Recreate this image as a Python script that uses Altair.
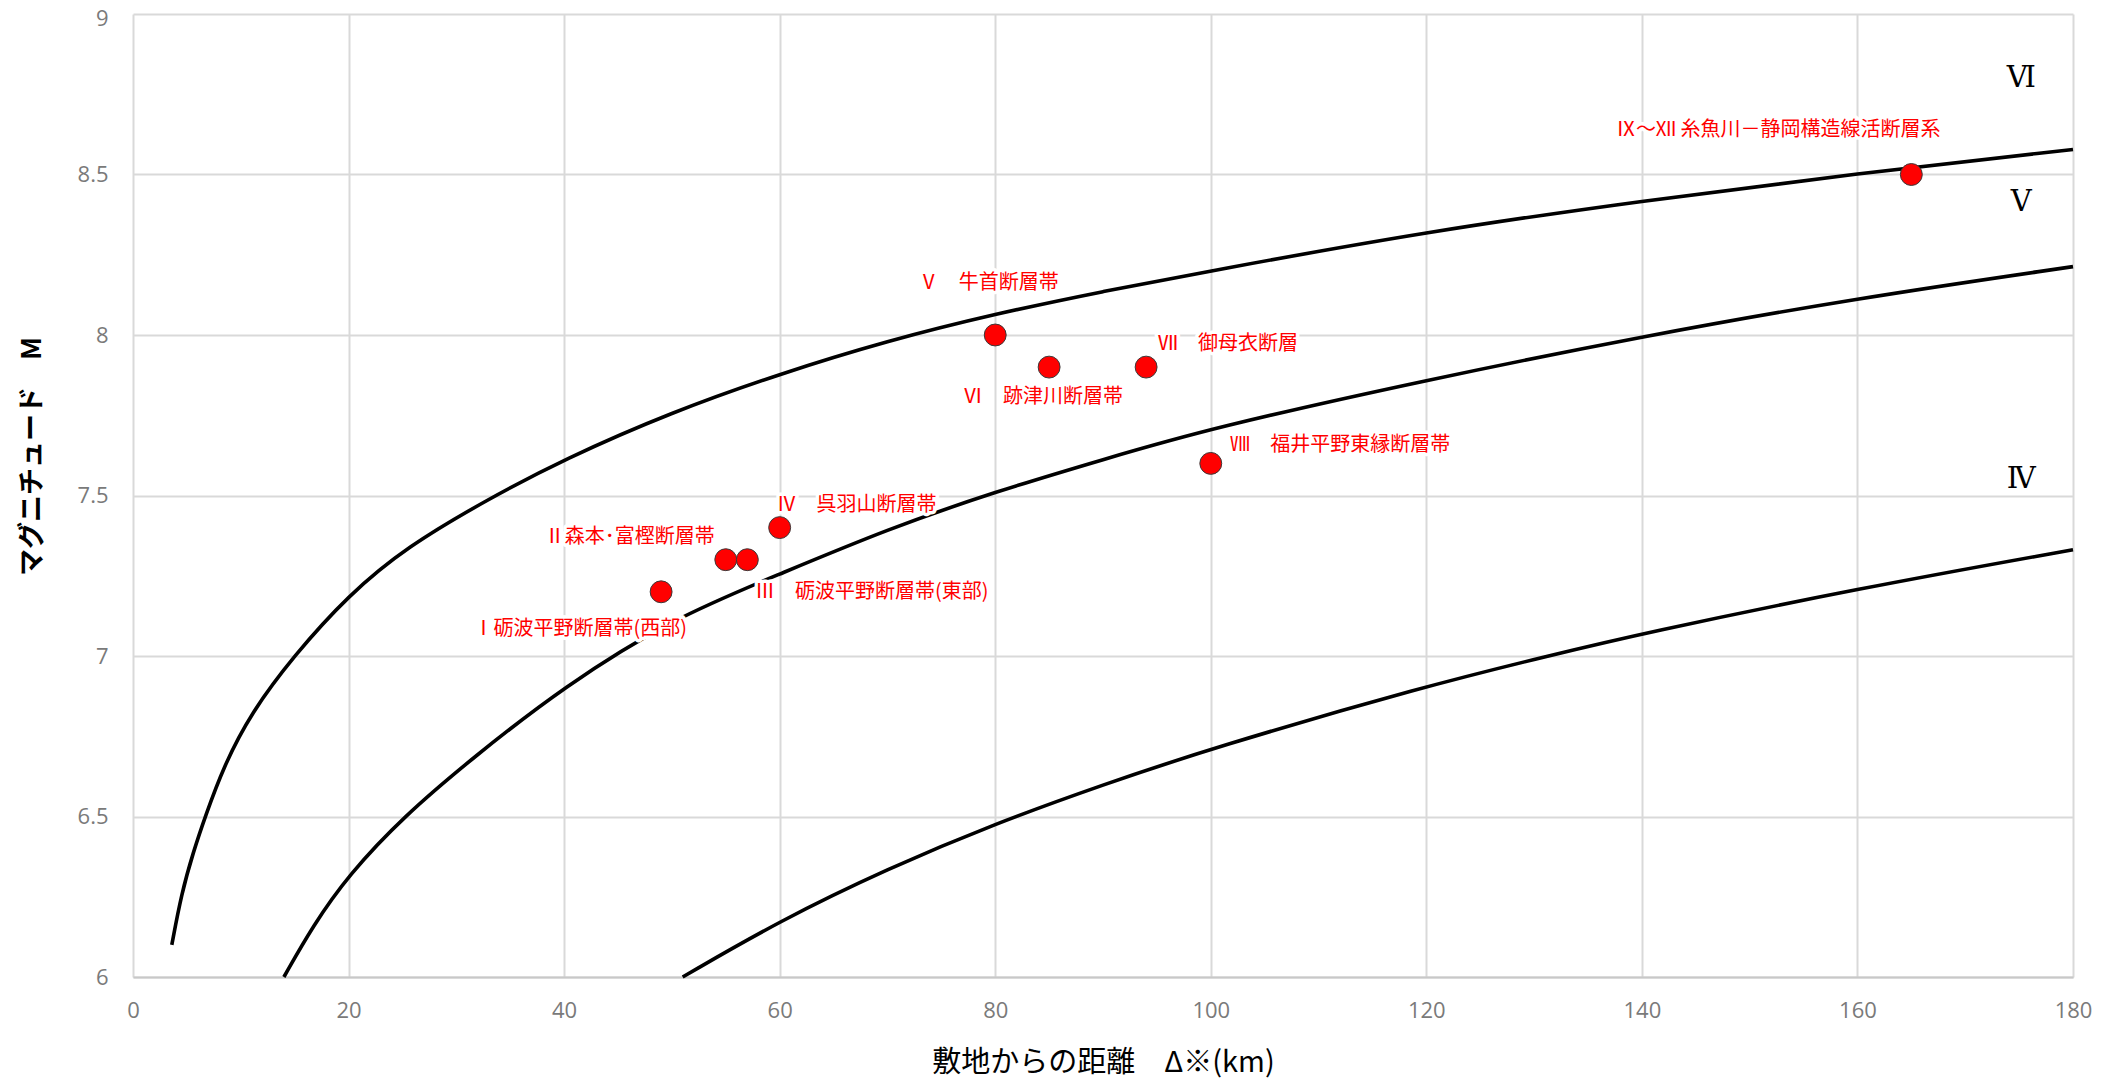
import altair as alt
import pandas as pd

# ---- boundary curves ----
curve_a_x = [3.6, 4.5, 5.6, 6.7, 8.4, 10.9, 14.9, 20, 25.4, 32.8, 40, 50, 60, 70, 80, 90, 100, 120, 140, 160, 180]
curve_a_y = [6.10, 6.26, 6.39, 6.50, 6.655, 6.82, 7.00, 7.19, 7.34, 7.486, 7.613, 7.76, 7.879, 7.982, 8.066, 8.136, 8.20, 8.322, 8.418, 8.503, 8.578]

curve_b_x = [14.0, 16.7, 20, 25.1, 31.6, 40, 50, 60, 70, 80, 90, 100, 120, 140, 160, 180]
curve_b_y = [6.0, 6.16, 6.318, 6.5, 6.685, 6.905, 7.116, 7.255, 7.395, 7.512, 7.612, 7.71, 7.86, 7.996, 8.115, 8.213]

curve_c_x = [51.0, 60, 70, 80, 90, 100, 120, 131.3, 140, 160, 180]
curve_c_y = [6.0, 6.175, 6.337, 6.478, 6.599, 6.712, 6.907, 7.0, 7.07, 7.21, 7.331]

# ---- faults ----
fault_names = [
    "Ⅰ砺波平野断層帯(西部)",
    "Ⅱ森本･富樫断層帯",
    "Ⅲ　砺波平野断層帯(東部)",
    "Ⅳ　呉羽山断層帯",
    "Ⅴ　牛首断層帯",
    "Ⅵ　跡津川断層帯",
    "Ⅶ　御母衣断層",
    "Ⅷ　福井平野東縁断層帯",
    "Ⅸ～Ⅻ 糸魚川－静岡構造線活断層系",
]
fault_dist = [49, 55, 57, 60, 80, 85, 94, 100, 165]
fault_mag = [7.2, 7.3, 7.3, 7.4, 8.0, 7.9, 7.9, 7.6, 8.5]
label_x = [31.6, 38.2, 57.7, 59.7, 72.9, 77.0, 95.1, 101.8, 137.6]
label_y = [7.085, 7.371, 7.20, 7.47, 8.161, 7.808, 7.972, 7.657, 8.639]

# ---- intensity zone labels ----
zone_names = ["Ⅵ", "Ⅴ", "Ⅳ"]
zone_x = [175.2, 175.2, 175.2]
zone_y = [8.80, 8.415, 7.55]

x_ticks = [0, 20, 40, 60, 80, 100, 120, 140, 160, 180]
y_ticks = [6, 6.5, 7, 7.5, 8, 8.5, 9]

curves = pd.concat([
    pd.DataFrame({"x": curve_a_x, "y": curve_a_y, "curve": "A"}),
    pd.DataFrame({"x": curve_b_x, "y": curve_b_y, "curve": "B"}),
    pd.DataFrame({"x": curve_c_x, "y": curve_c_y, "curve": "C"}),
], ignore_index=True)
faults = pd.DataFrame({"x": fault_dist, "y": fault_mag, "name": fault_names})
labels = pd.DataFrame({"x": label_x, "y": label_y, "name": fault_names})
zones = pd.DataFrame({"x": zone_x, "y": zone_y, "name": zone_names})

FONT = "Noto Sans CJK JP"
xscale = alt.Scale(domain=[0, 180], nice=False, zero=False)
yscale = alt.Scale(domain=[6, 9], nice=False, zero=False)

x_axis = alt.Axis(
    values=x_ticks, grid=True, gridColor="#d9d9d9", gridWidth=2,
    domain=True, domainColor="#c8c8c8", domainWidth=2,
    ticks=False, tickSize=0, labelPadding=23, labelFlush=False,
    labelFont="Open Sans", labelFontSize=22, labelColor="#7a7a7a",
    title="敷地からの距離　Δ※(km)", titleFont=FONT, titleFontSize=29,
    titleFontWeight="normal", titleColor="#000000",
    titleY=85, titleBaseline="middle",
)
y_axis = alt.Axis(
    values=y_ticks, format="~g", grid=True, gridColor="#d9d9d9", gridWidth=2,
    domain=False, ticks=False, tickSize=0, labelPadding=25, labelFlush=False,
    labelBaseline={"condition": {"test": "datum.value == 9", "value": "top"}, "value": "middle"},
    labelOffset={"condition": {"test": "datum.value == 9", "value": -6}, "value": 0},
    labelFont="Open Sans", labelFontSize=22, labelColor="#7a7a7a",
    title="マグニチュード　M", titleFont=FONT, titleFontSize=27,
    titleFontWeight="bold", titleColor="#000000",
    titleAngle=270, titleX=-101, titleY=442, titleAlign="center", titleBaseline="middle",
)

X = alt.X("x:Q", scale=xscale, axis=x_axis)
Y = alt.Y("y:Q", scale=yscale, axis=y_axis)

lines = alt.Chart(curves).mark_line(color="#000000", strokeWidth=3.6, interpolate="basis").encode(
    x=X, y=Y, detail="curve:N",
)

points = alt.Chart(faults).mark_circle(
    size=480, color="#FF0000", opacity=1, stroke="#3a3a3a", strokeWidth=1
).encode(x=X, y=Y)

# white halo under the labels (the reference labels sit on white boxes)
halo = alt.Chart(labels).mark_text(
    align="left", baseline="middle", font=FONT, fontSize=20,
    color="#ffffff", stroke="#ffffff", strokeWidth=7, strokeJoin="round"
).encode(x=X, y=Y, text="name:N")

texts = alt.Chart(labels).mark_text(
    align="left", baseline="middle", font=FONT, fontSize=20, color="#FF0000"
).encode(x=X, y=Y, text="name:N")

zone_text = alt.Chart(zones).mark_text(
    align="center", baseline="middle", font="DejaVu Serif", fontSize=29, color="#000000"
).encode(x=X, y=Y, text="name:N")

chart = alt.layer(lines, halo, points, texts, zone_text).properties(
    width=1940, height=963,
    autosize=alt.AutoSizeParams(type="none"),
    padding={"left": 125, "top": 6, "right": 30, "bottom": 102},
    background="#ffffff",
).configure_view(stroke=None)

chart.save("out.html", embed_options={"renderer": "svg", "actions": False})
